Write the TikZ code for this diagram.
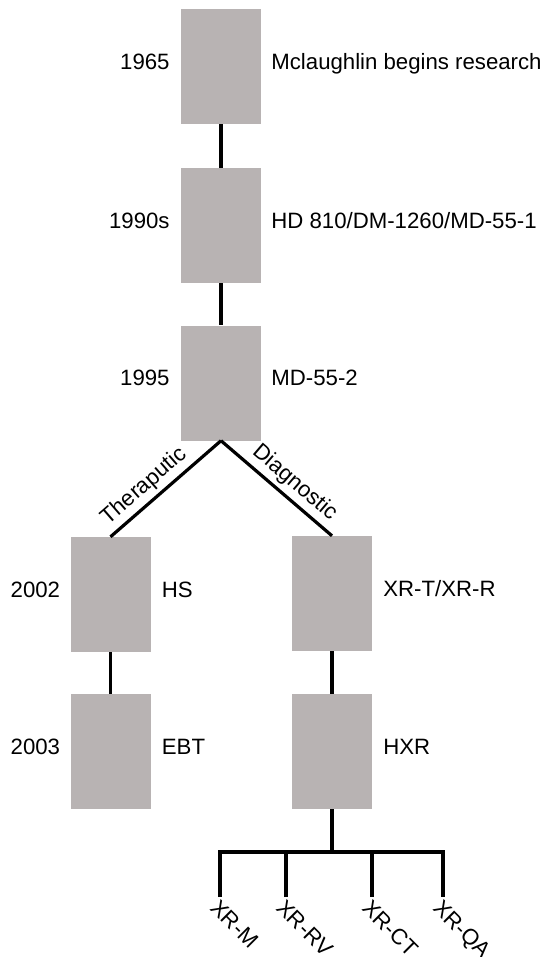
\documentclass[tikz,border=0pt]{standalone}
\usepackage{fontspec}
\setmainfont{Liberation Sans}
\definecolor{boxgray}{RGB}{184,179,179}
\begin{document}
\begin{tikzpicture}[x=1pt,y=-1pt,
  box/.style={fill=boxgray,minimum width=80pt,minimum height=115pt,inner sep=0pt},
  link/.style={line width=3.2pt},
  txt/.style={font=\fontsize{22.2}{26}\selectfont,inner sep=0pt}]
\useasboundingbox (0,0) rectangle (545,957);
% main line
\node[box] (b1) at (221,66.5) {};
\node[box] (b2) at (221,225.5) {};
\node[box] (b3) at (221,383) {};
\node[txt,anchor=mid east] (y1) at ([xshift=-11pt]b1.west) {1965};
\node[txt,anchor=mid west] (t1) at ([xshift=10pt]b1.east) {Mclaughlin begins research};
\node[txt,anchor=mid east] (y2) at ([xshift=-11pt]b2.west) {1990s};
\node[txt,anchor=mid west] (t2) at ([xshift=10pt]b2.east) {HD 810/DM-1260/MD-55-1};
\node[txt,anchor=mid east] (y3) at ([xshift=-11pt]b3.west) {1995};
\node[txt,anchor=mid west] (t3) at ([xshift=10pt]b3.east) {MD-55-2};
\draw[link] (b1) -- (b2);
\draw[link] (b2) -- (b3);
% branches
\node[box] (hs) at (110.5,594.5) {};
\node[box] (ebt) at (110.5,751.5) {};
\node[box] (xr) at (332,593.5) {};
\node[box] (hxr) at (332,751.5) {};
\node[txt,anchor=mid east] (y4) at ([xshift=-10pt]hs.west) {2002};
\node[txt,anchor=mid west] (t4) at ([xshift=11pt]hs.east) {HS};
\node[txt,anchor=mid east] (y5) at ([xshift=-10pt]ebt.west) {2003};
\node[txt,anchor=mid west] (t5) at ([xshift=11pt]ebt.east) {EBT};
\node[txt,anchor=mid west] (t6) at ([xshift=11pt]xr.east) {XR-T/XR-R};
\node[txt,anchor=mid west] (t7) at ([xshift=11pt]hxr.east) {HXR};
\draw[link] (hs.north) -- node[txt,sloped,above=4pt,pos=0.4] {Theraputic} (b3.south);
\draw[link] (b3.south) -- node[txt,sloped,above=4pt,pos=0.57] {Diagnostic} (xr.north);
\draw[link] (hs) -- (ebt);
\draw[link] (xr) -- (hxr);
% models
\coordinate (fork) at (332,852);
\coordinate (c1) at (220,897);
\coordinate (c2) at (286,897);
\coordinate (c3) at (372,897);
\coordinate (c4) at (443,897);
\draw[link] (hxr) -- (fork);
\draw[link] (c1) |- (fork) -| (c4);
\foreach \c in {c2,c3} \draw[link] (\c) -- (\c |- fork);
\node[txt,rotate=-45,anchor=north west,inner sep=1pt] (m1) at (c1) {XR-M};
\node[txt,rotate=-45,anchor=north west,inner sep=1pt] (m2) at (c2) {XR-RV};
\node[txt,rotate=-45,anchor=north west,inner sep=1pt] (m3) at (c3) {XR-CT};
\node[txt,rotate=-45,anchor=north west,inner sep=1pt] (m4) at (c4) {XR-QA};
\end{tikzpicture}
\end{document}
